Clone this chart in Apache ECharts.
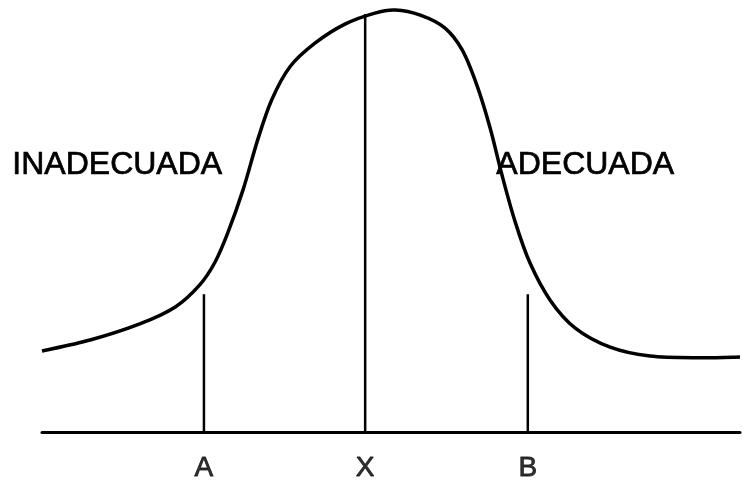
<!DOCTYPE html>
<html>
<head>
<meta charset="utf-8">
<script src="https://cdn.jsdelivr.net/npm/echarts@6/dist/echarts.min.js"></script>
<style>
  html, body { margin: 0; padding: 0; background: #fff; }
  #chart { width: 743px; height: 482px; }
</style>
</head>
<body>
<div id="chart"></div>
<script>
	// curva (x, y)
	var curveX = [0, 6.9, 14.0, 19.1, 22.6, 24.8, 26.6, 28.8, 30.9, 32.9, 35.5, 39.1, 43.4, 47.7, 50.6, 54.2, 57.7, 60.2, 62.3, 64.2, 65.9, 67.8, 69.9, 72.8, 76.4, 81.4, 87.1, 94.3, 100];
	var curveY = [19.1, 21.7, 25.5, 29.5, 34.7, 40.1, 46.9, 57.1, 68.9, 78.3, 86.1, 91.7, 96.2, 98.8, 99.5, 98.3, 95.3, 90.1, 81.8, 71.7, 60.6, 49.5, 39.9, 31.1, 24.5, 20.0, 17.9, 17.5, 17.7];

	// lineas verticales A, X, B
	var markNames = ['A', 'X', 'B'];
	var markX = [23.2, 46.3, 69.6];
	var markTop = [32.5, 98.6, 32.5];

	var regionNames = ['INADECUADA', 'ADECUADA'];

	var curveData = [];
	for (var i = 0; i < curveX.length; i++) {
		curveData.push([curveX[i], curveY[i]]);
	}

	// curva suave (catmull-rom) sobre los puntos ya pasados por los ejes
	function renderCurve(params, api) {
		if (params.dataIndex !== 0) return;
		var pts = curveData.map(function (d) { return api.coord(d); });
		var d = 'M' + pts[0][0] + ',' + pts[0][1];
		for (var k = 0; k < pts.length - 1; k++) {
			var p0 = pts[k - 1] || pts[k], p1 = pts[k], p2 = pts[k + 1], p3 = pts[k + 2] || pts[k + 1];
			var c1x = p1[0] + (p2[0] - p0[0]) / 6, c1y = p1[1] + (p2[1] - p0[1]) / 6;
			var c2x = p2[0] - (p3[0] - p1[0]) / 6, c2y = p2[1] - (p3[1] - p1[1]) / 6;
			d += ' C' + c1x + ',' + c1y + ' ' + c2x + ',' + c2y + ' ' + p2[0] + ',' + p2[1];
		}
		return {
			type: 'path',
			shape: { pathData: d },
			style: { stroke: '#000', lineWidth: 3.5, fill: null }
		};
	}

	var series = [{
		type: 'custom',
		data: curveData,
		renderItem: renderCurve,
		silent: true,
		z: 3
	}];

	for (var j = 0; j < markNames.length; j++) {
		series.push({
			type: 'line',
			data: [[markX[j], 0], [markX[j], markTop[j]]],
			showSymbol: false,
			lineStyle: { color: '#000', width: 2.5 },
			z: 2
		});
	}

	// letras bajo el eje
	series.push({
		type: 'scatter',
		symbolSize: 0,
		data: markX.map(function (x, k) { return { value: [x, 0], name: markNames[k] }; }),
		label: {
			show: true,
			position: 'bottom',
			distance: 22,
			formatter: '{b}',
			color: '#000',
			textBorderColor: '#000',
			textBorderWidth: 0.8,
			fontSize: 28,
			fontFamily: 'Liberation Sans'
		},
		silent: true
	});

	var chart = echarts.init(document.getElementById('chart'));
	chart.setOption({
		backgroundColor: '#fff',
		animation: false,
		grid: { left: 42, right: 3, top: 8, bottom: 50 },
		xAxis: {
			type: 'value', min: 0, max: 100,
			axisLine: { show: true, lineStyle: { color: '#000', width: 3 } },
			axisTick: { show: false },
			axisLabel: { show: false },
			splitLine: { show: false }
		},
		yAxis: {
			type: 'value', min: 0, max: 100,
			axisLine: { show: false },
			axisTick: { show: false },
			axisLabel: { show: false },
			splitLine: { show: false }
		},
		graphic: [{
			type: 'text', left: 12, top: 149,
			style: { text: regionNames[0], fill: '#000', stroke: '#000', lineWidth: 0.7, font: '32px "Liberation Sans"' }
		}, {
			type: 'text', left: 496, top: 149,
			style: { text: regionNames[1], fill: '#000', stroke: '#000', lineWidth: 0.7, font: '32px "Liberation Sans"' }
		}],
		series: series
	});
</script>
</body>
</html>
